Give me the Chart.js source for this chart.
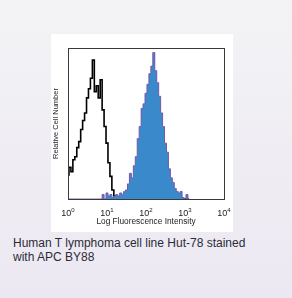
<!DOCTYPE html>
<html>
<head>
<meta charset="utf-8">
<script src="https://cdn.jsdelivr.net/npm/chart.js@4"></script>
<style>
  html, body { margin: 0; padding: 0; }
  body {
    width: 292px; height: 298px; overflow: hidden; position: relative;
    background: linear-gradient(#f3f3f5, #ece8f2);
  }
  .panel {
    position: absolute; left: 51px; top: 34px; width: 182px; height: 198px;
    background: #fff;
  }
  .caption {
    position: absolute; left: 13px; top: 236px; width: 255px;
    font-family: "Liberation Sans", Arial, sans-serif; font-size: 12px;
    line-height: 14px; color: #2b2b38;
  }
</style>
</head>
<body>
<div class="panel"><canvas id="histChart" width="182" height="198"></canvas></div>
<div class="caption">Human T lymphoma cell line Hut-78 stained with APC BY88</div>
<script>
// log10 fluorescence channel
const channels = [
  0.00, 0.05, 0.10, 0.15, 0.20, 0.25, 0.30, 0.35, 0.40, 0.45,
  0.50, 0.55, 0.60, 0.65, 0.70, 0.75, 0.80, 0.85, 0.90, 0.95,
  1.00, 1.05, 1.10, 1.15, 1.20, 1.25, 1.30, 1.35, 1.40, 1.45,
  1.50, 1.55, 1.60, 1.65, 1.70, 1.75, 1.80, 1.85, 1.90, 1.95,
  2.00, 2.05, 2.10, 2.15, 2.20, 2.25, 2.30, 2.35, 2.40, 2.45,
  2.50, 2.55, 2.60, 2.65, 2.70, 2.75, 2.80, 2.85, 2.90, 2.95,
  3.00, 3.05, 3.10
];
// isotype control (black outline)
const controlCounts = [
  16, 21, 18, 26, 28, 34, 38, 46, 52, 57,
  67, 73, 80, 92, 71, 75, 67, 79, 59, 48,
  37, 24, 15, 6, 2, 0, 0, 0, 0, 0,
  0, 0, 0, 0, 0, 0, 0, 0, 0, 0,
  0, 0, 0, 0, 0, 0, 0, 0, 0, 0,
  0, 0, 0, 0, 0, 0, 0, 0, 0, 0,
  0, 0, 0
];
// APC BY88 stained (filled blue)
const stainedCounts = [
  0, 0, 0, 0, 0, 0, 0, 0, 0, 0,
  0, 0, 0, 0, 0, 0, 0, 0, 3, 0,
  4, 2, 3, 1, 2, 3, 2, 4, 3, 5,
  6, 10, 17, 14, 22, 28, 40, 48, 60, 63,
  70, 76, 83, 88, 97, 85, 77, 68, 57, 48,
  37, 31, 20, 14, 11, 7, 5, 4, 5, 1,
  0, 3, 0
];
const tickExponents = [0, 1, 2, 3, 4];

const fontFamily = '"Liberation Sans", Arial, sans-serif';

// frame round the plot and 10^n tick labels
const framePlugin = {
  id: 'frame',
  afterDraw(chart) {
    const ctx = chart.ctx;
    const a = chart.chartArea;
    ctx.save();
    ctx.strokeStyle = '#3a3a3a';
    ctx.lineWidth = 1;
    ctx.strokeRect(Math.round(a.left) + 0.5, Math.round(a.top) + 0.5,
                   Math.round(a.right - a.left), Math.round(a.bottom - a.top));
    const xs = chart.scales.x;
    ctx.fillStyle = '#222';
    ctx.textBaseline = 'alphabetic';
    tickExponents.forEach(function(e) {
      const px = xs.getPixelForValue(e);
      ctx.font = '9px ' + fontFamily;
      const w1 = ctx.measureText('10').width;
      ctx.font = '6px ' + fontFamily;
      const w2 = ctx.measureText(String(e)).width;
      const x0 = px - (w1 + w2) / 2;
      const y0 = a.bottom + 17;
      ctx.font = '9px ' + fontFamily;
      ctx.textAlign = 'left';
      ctx.fillText('10', x0, y0);
      ctx.font = '6px ' + fontFamily;
      ctx.fillText(String(e), x0 + w1, y0 - 4);
    });
    ctx.restore();
  }
};

new Chart(document.getElementById('histChart'), {
  type: 'line',
  data: {
    datasets: [
      {
        label: 'APC BY88',
        data: channels.map((c, i) => ({ x: c, y: stainedCounts[i] })),
        stepped: 'middle',
        borderColor: '#7458a8',
        borderWidth: 1,
        backgroundColor: '#3a8acb',
        fill: 'origin',
        pointRadius: 0
      },
      {
        label: 'Control',
        data: channels.map((c, i) => ({ x: c, y: controlCounts[i] })),
        stepped: 'middle',
        borderColor: '#000',
        borderWidth: 1.6,
        fill: false,
        pointRadius: 0
      }
    ]
  },
  options: {
    responsive: false,
    animation: false,
    layout: { padding: { top: 14, right: 9, left: 0, bottom: 0 } },
    plugins: { legend: { display: false }, tooltip: { enabled: false } },
    scales: {
      x: {
        type: 'linear', min: 0, max: 4,
        grid: { display: false },
        border: { display: false },
        ticks: { display: false },
        title: {
          display: true, text: 'Log Fluorescence Intensity', color: '#222',
          font: { family: fontFamily, size: 8.3 }, padding: { top: 0, bottom: 5 }
        },
        afterFit(scale) { scale.height = 33; }
      },
      y: {
        min: 0, max: 100,
        grid: { display: false },
        border: { display: false },
        ticks: { display: false },
        title: {
          display: true, text: 'Relative Cell Number', color: '#222',
          font: { family: fontFamily, size: 7.5 }, padding: { top: 0, bottom: 0 }
        },
        afterFit(scale) { scale.width = 17; }
      }
    }
  },
  plugins: [framePlugin]
});
</script>
</body>
</html>
